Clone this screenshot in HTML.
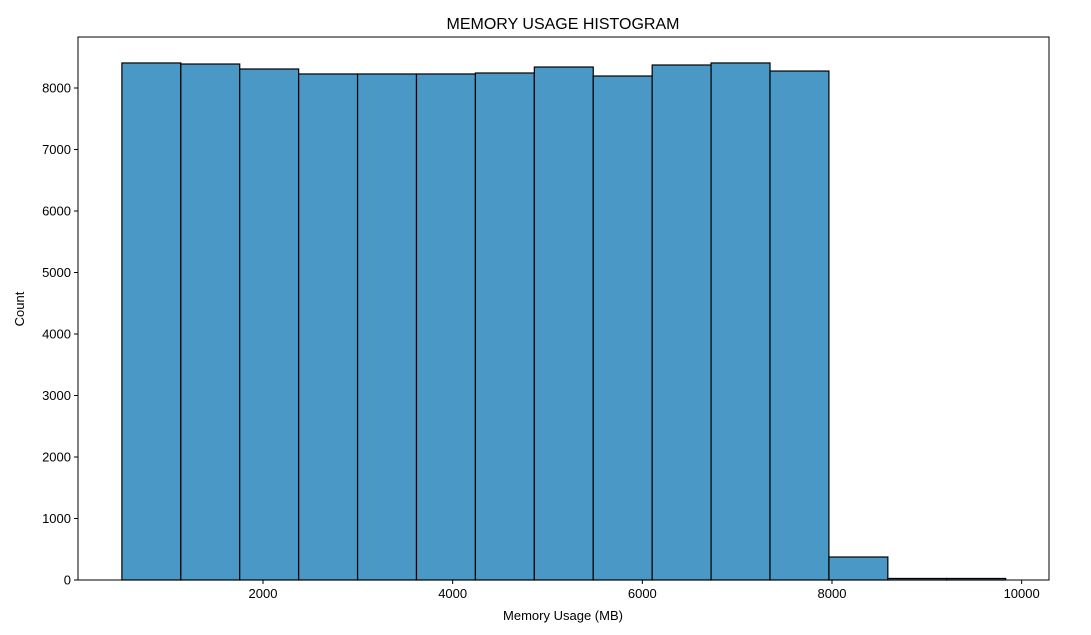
<!DOCTYPE html>
<html><head><meta charset="utf-8"><style>
body{margin:0;background:#fff;}
svg text{font-family:"Liberation Sans","DejaVu Sans",sans-serif;}
</style></head><body>
<svg id="chart" width="1091" height="630" xmlns="http://www.w3.org/2000/svg">
<rect width="1091" height="630" fill="#fff"/>
<text x="563" y="29" text-anchor="middle" font-size="16">MEMORY USAGE HISTOGRAM</text>
<g id="bars"></g>
<g id="axes"></g>
<text x="563" y="620" text-anchor="middle" font-size="13">Memory Usage (MB)</text>
<text transform="translate(24,309) rotate(-90)" text-anchor="middle" font-size="13">Count</text>
</svg>
<script>
const binStart = 512;
const binWidth = 621.3;
const counts = [8407,8390,8309,8228,8228,8228,8244,8341,8195,8374,8407,8276,374,25,25];
const xTicks = [2000,4000,6000,8000,10000];
const yTicks = [0,1000,2000,3000,4000,5000,6000,7000,8000];

const L=78,R=1049,T=37,B=580;
const xs = v => 263 + (v-2000)*(832-263)/6000;
const ys = v => B - v*(B-88)/8000;
const NS='http://www.w3.org/2000/svg';
const bars=document.getElementById('bars');
const axes=document.getElementById('axes');
counts.forEach((c,i)=>{
  const x0=xs(binStart+i*binWidth), x1=xs(binStart+(i+1)*binWidth);
  const r=document.createElementNS(NS,'rect');
  r.setAttribute('x',x0);r.setAttribute('y',ys(c));
  r.setAttribute('width',x1-x0);r.setAttribute('height',B-ys(c));
  r.setAttribute('fill','#4a98c5');r.setAttribute('stroke','#000');r.setAttribute('stroke-width','1.2');
  
  
  bars.appendChild(r);
});
const frame=document.createElementNS(NS,'rect');
frame.setAttribute('x',L);frame.setAttribute('y',T);frame.setAttribute('width',R-L);frame.setAttribute('height',B-T);
frame.setAttribute('fill','none');frame.setAttribute('stroke','#000');frame.setAttribute('stroke-width','1');


axes.appendChild(frame);
xTicks.forEach(t=>{
  const x=xs(t);
  const l=document.createElementNS(NS,'line');
  l.setAttribute('x1',x);l.setAttribute('x2',x);l.setAttribute('y1',B);l.setAttribute('y2',B+4);l.setAttribute('stroke','#000');
  
  
  axes.appendChild(l);
  const tx=document.createElementNS(NS,'text');
  tx.setAttribute('x',x);tx.setAttribute('y',B+18);tx.setAttribute('text-anchor','middle');tx.setAttribute('font-size','13');
  tx.textContent=t;
  
  
  axes.appendChild(tx);
});
yTicks.forEach(t=>{
  const y=ys(t);
  const l=document.createElementNS(NS,'line');
  l.setAttribute('x1',L-4);l.setAttribute('x2',L);l.setAttribute('y1',y);l.setAttribute('y2',y);l.setAttribute('stroke','#000');
  
  
  axes.appendChild(l);
  const tx=document.createElementNS(NS,'text');
  tx.setAttribute('x',L-7);tx.setAttribute('y',y+4.5);tx.setAttribute('text-anchor','end');tx.setAttribute('font-size','13');
  tx.textContent=t;
  
  
  axes.appendChild(tx);
});
</script>
</body></html>
